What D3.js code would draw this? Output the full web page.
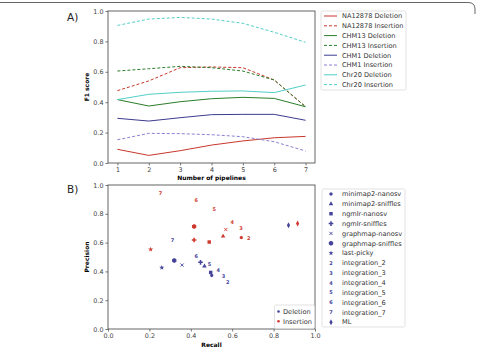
<!DOCTYPE html>
<html>
<head>
<meta charset="utf-8">
<script src="https://cdn.jsdelivr.net/npm/d3@7"></script>
<style>
  html, body { margin: 0; padding: 0; background: #fff; }
  svg { display: block; font-family: "DejaVu Sans", sans-serif; }
</style>
</head>
<body>
<div id="chart"></div>
<script>
// panel A data
const pipelines = [1, 2, 3, 4, 5, 6, 7];
const na12878Del = [0.09, 0.05, 0.081, 0.118, 0.145, 0.166, 0.175];
const na12878Ins = [0.476, 0.54, 0.627, 0.632, 0.627, 0.546, 0.37];
const chm13Del = [0.417, 0.375, 0.403, 0.423, 0.432, 0.425, 0.37];
const chm13Ins = [0.605, 0.62, 0.636, 0.627, 0.605, 0.546, 0.37];
const chm1Del = [0.294, 0.276, 0.298, 0.318, 0.32, 0.32, 0.281];
const chm1Ins = [0.153, 0.195, 0.193, 0.186, 0.173, 0.14, 0.079];
const chr20Del = [0.417, 0.452, 0.465, 0.472, 0.474, 0.463, 0.513];
const chr20Ins = [0.905, 0.947, 0.958, 0.947, 0.919, 0.86, 0.794];
const seriesNames = ["NA12878 Deletion", "NA12878 Insertion", "CHM13 Deletion", "CHM13 Insertion",
  "CHM1 Deletion", "CHM1 Insertion", "Chr20 Deletion", "Chr20 Insertion"];

// panel B data
const methods = ["minimap2-nanosv", "minimap2-sniffles", "ngmlr-nanosv", "ngmlr-sniffles",
  "graphmap-nanosv", "graphmap-sniffles", "last-picky", "integration_2", "integration_3",
  "integration_4", "integration_5", "integration_6", "integration_7", "ML"];
const delRecall = [0.501, 0.466, 0.496, 0.447, 0.358, 0.32, 0.26, 0.578, 0.558, 0.532, 0.49, 0.426, 0.312, 0.872];
const delPrecision = [0.372, 0.437, 0.393, 0.463, 0.444, 0.475, 0.426, 0.325, 0.365, 0.405, 0.451, 0.509, 0.614, 0.721];
const insRecall = [0.644, 0.556, 0.489, 0.416, 0.569, 0.416, 0.206, 0.68, 0.643, 0.6, 0.513, 0.426, 0.254, 0.916];
const insPrecision = [0.635, 0.644, 0.604, 0.618, 0.691, 0.712, 0.553, 0.632, 0.702, 0.744, 0.833, 0.893, 0.946, 0.733];

const width = 477, height = 348;
const tickColor = "#444";
const spineColor = "#555";

const svg = d3.select("#chart").append("svg")
  .attr("width", width).attr("height", height);

// figure frame (top edge with rounded corner)
svg.append("path")
  .attr("d", "M0,2.5 H468 Q475,2.5 475,9 V14")
  .attr("fill", "none").attr("stroke", "#666").attr("stroke-width", 1);

function drawAxes(g, x, y, xTicks, yTicks, xFmt, yFmt) {
  const [x0, x1] = x.range();
  const [y0, y1] = y.range();
  const xa = g.append("g").attr("transform", "translate(0," + y0 + ")")
    .call(d3.axisBottom(x).tickValues(xTicks).tickSize(2.5).tickPadding(2).tickFormat(xFmt));
  const ya = g.append("g").attr("transform", "translate(" + x0 + ",0)")
    .call(d3.axisLeft(y).tickValues(yTicks).tickSize(2.5).tickPadding(2).tickFormat(yFmt));
  [xa, ya].forEach(a => {
    a.select(".domain").remove();
    a.selectAll("line").attr("stroke", spineColor).attr("stroke-width", 0.8);
    a.selectAll("text").attr("fill", tickColor).style("font-size", "6.4px")
      .style("font-family", "DejaVu Sans");
  });
  g.append("rect")
    .attr("x", x0).attr("y", y1).attr("width", x1 - x0).attr("height", y0 - y1)
    .attr("fill", "none").attr("stroke", spineColor).attr("stroke-width", 0.9);
}

function legendBox(x, y, w, h) {
  svg.append("rect")
    .attr("x", x).attr("y", y).attr("width", w).attr("height", h)
    .attr("rx", 1.5).attr("fill", "#fff").attr("stroke", "#d6d6d6").attr("stroke-width", 0.7);
}

// ---------- Panel A ----------
const xA = d3.scaleLinear().domain([0.7, 7.3]).range([108, 315]);
const yA = d3.scaleLinear().domain([0, 1]).range([163, 11]);
const gA = svg.append("g");

const lineStyles = [
  { data: na12878Del, color: "#c9372c", dash: null },
  { data: na12878Ins, color: "#c9372c", dash: "3,2" },
  { data: chm13Del, color: "#2b7d2b", dash: null },
  { data: chm13Ins, color: "#2b7d2b", dash: "3,2" },
  { data: chm1Del, color: "#3b3b8f", dash: null },
  { data: chm1Ins, color: "#8a80d4", dash: "3,2" },
  { data: chr20Del, color: "#52cfc7", dash: null },
  { data: chr20Ins, color: "#52cfc7", dash: "3,2" }
];

const line = d3.line().x((d, i) => xA(pipelines[i])).y(d => yA(d));
lineStyles.forEach(s => {
  gA.append("path").datum(s.data)
    .attr("d", line).attr("fill", "none")
    .attr("stroke", s.color).attr("stroke-width", 1)
    .attr("stroke-dasharray", s.dash);
});

drawAxes(gA, xA, yA, pipelines, [0, 0.2, 0.4, 0.6, 0.8, 1.0], d3.format("d"), d3.format(".1f"));

svg.append("text").attr("x", 211.5).attr("y", 180)
  .attr("text-anchor", "middle").style("font-size", "6px").style("font-weight", "bold")
  .text("Number of pipelines");
svg.append("text").attr("transform", "translate(89,87) rotate(-90)")
  .attr("text-anchor", "middle").style("font-size", "6px").style("font-weight", "bold")
  .text("F1 score");
svg.append("text").attr("x", 67).attr("y", 21).style("font-size", "10.5px").attr("fill", "#222").text("A)");

// legend A
legendBox(321, 11, 85, 79);
seriesNames.forEach((name, i) => {
  const yy = 16 + i * 9.8;
  svg.append("line").attr("x1", 324).attr("x2", 337).attr("y1", yy).attr("y2", yy)
    .attr("stroke", lineStyles[i].color).attr("stroke-width", 1)
    .attr("stroke-dasharray", lineStyles[i].dash);
  svg.append("text").attr("x", 342).attr("y", yy + 2.3)
    .style("font-size", "6.6px").attr("fill", "#333").text(name);
});

// ---------- Panel B ----------
const xB = d3.scaleLinear().domain([0, 1]).range([108, 315]);
const yB = d3.scaleLinear().domain([0, 1]).range([329, 185]);
const gB = svg.append("g");
drawAxes(gB, xB, yB, [0, 0.2, 0.4, 0.6, 0.8, 1.0], [0, 0.2, 0.4, 0.6, 0.8, 1.0], d3.format(".1f"), d3.format(".1f"));

const delColor = "#45449a", insColor = "#cf3a2f";

function hexPath(r) {
  return d3.range(6).map(k => {
    const a = Math.PI / 6 + k * Math.PI / 3;
    return (k ? "L" : "M") + (r * Math.cos(a)).toFixed(2) + "," + (r * Math.sin(a)).toFixed(2);
  }).join("") + "Z";
}

function drawMarker(parent, idx, cx, cy, color) {
  const g = parent.append("g").attr("transform", "translate(" + cx + "," + cy + ")");
  const m = methods[idx];
  if (m.startsWith("integration_")) {
    g.append("text").attr("text-anchor", "middle").attr("y", 1.8)
      .style("font-size", "5px").style("font-weight", "bold")
      .attr("fill", color).text(m.split("_")[1]);
    return;
  }
  let d;
  switch (m) {
    case "minimap2-nanosv": d = hexPath(1.8); break;
    case "minimap2-sniffles": d = d3.symbol(d3.symbolTriangle, 9)(); break;
    case "ngmlr-nanosv": d = d3.symbol(d3.symbolSquare, 12)(); break;
    case "ngmlr-sniffles": d = d3.symbol(d3.symbolCross, 12)(); break;
    case "graphmap-sniffles": d = hexPath(2.5); break;
    case "last-picky": d = d3.symbol(d3.symbolStar, 8)(); break;
    case "ML": d = "M0,-3 L1.6,0 L0,3 L-1.6,0 Z"; break;
  }
  if (m === "graphmap-nanosv") {
    g.append("path").attr("d", "M-1.6,-1.6 L1.6,1.6 M-1.6,1.6 L1.6,-1.6")
      .attr("stroke", color).attr("stroke-width", 0.9).attr("fill", "none");
    return;
  }
  g.append("path").attr("d", d).attr("fill", color);
}

methods.forEach((m, i) => {
  drawMarker(gB, i, xB(delRecall[i]), yB(delPrecision[i]), delColor);
  drawMarker(gB, i, xB(insRecall[i]), yB(insPrecision[i]), insColor);
});

svg.append("text").attr("x", 211.5).attr("y", 347)
  .attr("text-anchor", "middle").style("font-size", "6px").style("font-weight", "bold")
  .text("Recall");
svg.append("text").attr("transform", "translate(89,257) rotate(-90)")
  .attr("text-anchor", "middle").style("font-size", "6px").style("font-weight", "bold")
  .text("Precision");
svg.append("text").attr("x", 67).attr("y", 193).style("font-size", "10.5px").attr("fill", "#222").text("B)");

// inner legend: Deletion / Insertion
legendBox(274.5, 305, 40, 23.5);
[["Deletion", delColor], ["Insertion", insColor]].forEach(([lab, c], i) => {
  const yy = 311.5 + i * 9.8;
  svg.append("circle").attr("cx", 278.5).attr("cy", yy).attr("r", 1.3).attr("fill", c);
  svg.append("text").attr("x", 283).attr("y", yy + 2.3)
    .style("font-size", "6.6px").attr("fill", "#333").text(lab);
});

// method legend
legendBox(322, 189, 83, 138);
methods.forEach((m, i) => {
  const yy = 194 + i * 9.86;
  drawMarker(svg, i, 331, yy, delColor);
  svg.append("text").attr("x", 342).attr("y", yy + 2.3)
    .style("font-size", "6.6px").attr("fill", "#333").text(m);
});
</script>
</body>
</html>
